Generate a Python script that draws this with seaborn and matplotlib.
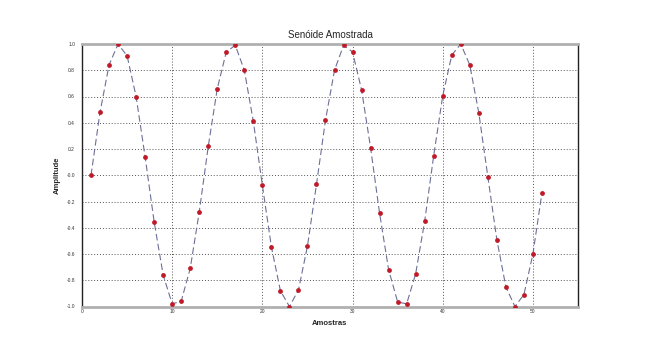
import numpy as np
import pandas as pd
import matplotlib
matplotlib.use("Agg")
import matplotlib.pyplot as plt
import seaborn as sns
from matplotlib.ticker import MultipleLocator

amostras = list(range(1, 52))
amplitude = [0.0, 0.48, 0.84, 1.0, 0.91, 0.60, 0.14, -0.355, -0.76, -0.98,
             -0.96, -0.71, -0.28, 0.22, 0.66, 0.94, 0.99, 0.80, 0.41, -0.076,
             -0.545, -0.88, -1.0, -0.875, -0.54, -0.07, 0.42, 0.80, 0.99, 0.94,
             0.65, 0.21, -0.29, -0.72, -0.965, -0.98, -0.75, -0.35, 0.15, 0.605,
             0.915, 1.0, 0.84, 0.475, -0.01, -0.49, -0.85, -1.0, -0.91, -0.60,
             -0.135]

title = "Senóide Amostrada"
xlabel = "Amostras"
ylabel = "Amplitude"

df = pd.DataFrame({"Amostras": amostras, "Amplitude": amplitude})

sns.set_style("white")
plt.rcParams['font.family'] = ['Liberation Sans', 'DejaVu Sans']

fig = plt.figure(figsize=(6.6, 3.51), dpi=100)
ax = fig.add_axes([82/660, 1 - 306.5/351, (578-82)/660, (306.5-44)/351])

sns.lineplot(data=df, x="Amostras", y="Amplitude", ax=ax, color="#6d7096",
             linewidth=0.8, linestyle=(0, (6, 3)), zorder=2)
sns.scatterplot(data=df, x="Amostras", y="Amplitude", ax=ax, color="#c01a28",
                s=12, edgecolor="#c01a28", linewidth=0, zorder=3)

ax.set_xlim(0, 55)
ax.set_ylim(-1.0, 1.0)
ax.xaxis.set_minor_locator(MultipleLocator(2))
ax.yaxis.set_minor_locator(MultipleLocator(0.1))
ax.set_xticks([0, 10, 20, 30, 40, 50])
ax.set_xticklabels(["0", "10", "20", "30", "40", "50"])
yt = np.round(np.arange(-1.0, 1.01, 0.2), 1)
ax.set_yticks(yt)
ax.set_yticklabels([f"{v:.1f}" for v in yt])

ax.grid(True, which="major", linestyle=(0, (1, 2)), color="#555555", linewidth=0.7)
ax.tick_params(axis="both", which="major", labelsize=3.5, length=3, width=0.6,
               colors="#333333", direction="out", pad=2)
ax.tick_params(axis="both", which="minor", length=2, width=0.6, color="#333333",
               direction="out")
ax.tick_params(axis="x", which="both", direction="in")

for side in ["left", "right"]:
    ax.spines[side].set_color("#222222")
    ax.spines[side].set_linewidth(1.0)
for side in ["top", "bottom"]:
    ax.spines[side].set_color("#b0b0b0")
    ax.spines[side].set_linewidth(2.0)

ax.set_title(title, fontsize=7, pad=4)
ax.set_xlabel(xlabel, fontsize=5.5, fontweight="bold", labelpad=4)
ax.set_ylabel(ylabel, fontsize=5.5, fontweight="bold", labelpad=4)

fig.savefig("out.png", dpi=100, facecolor="white")
